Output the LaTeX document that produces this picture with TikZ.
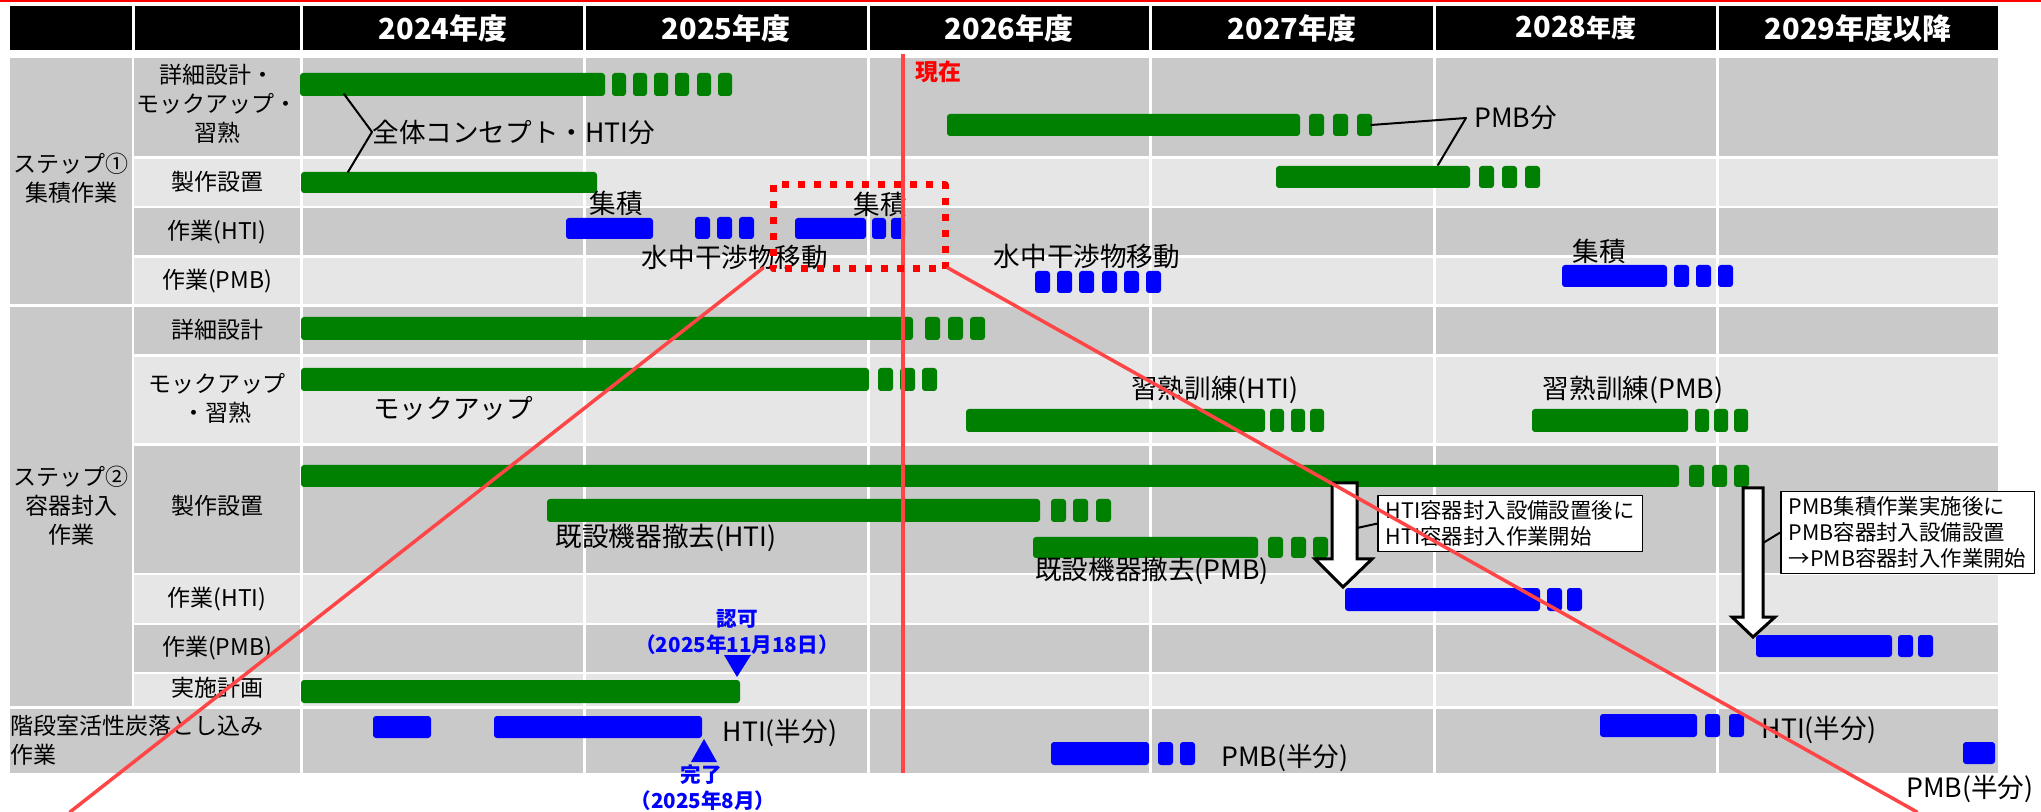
\documentclass[tikz,border=0pt]{standalone}
\usepackage{fontspec}
\setmainfont{Noto Sans CJK JP}
\definecolor{RowDark}{HTML}{C9C9C9}
\definecolor{RowLight}{HTML}{E6E6E6}
\definecolor{BarGreen}{HTML}{008000}
\definecolor{BarBlue}{HTML}{0000FF}
\definecolor{NowRed}{HTML}{FF4545}

\begin{document}
\begin{tikzpicture}[x=0.5pt,y=-0.5pt,line cap=round,line join=round,
  gbar/.style={fill=BarGreen,rounded corners=1.5pt},
  bbar/.style={fill=BarBlue,rounded corners=1.5pt},
  rowlab/.style={font=\fontsize{11.5}{14.5}\selectfont,align=center,inner sep=0pt},
  chartlab/.style={font=\fontsize{13.3}{15}\selectfont,inner sep=0pt},
  yearlab/.style={font=\fontsize{14.5}{16}\selectfont\bfseries,text=white,inner sep=0pt},
  marklab/.style={font=\fontsize{10.3}{13}\selectfont\bfseries,text=BarBlue,inner sep=0pt},
  callout/.style={draw,line width=0.75pt,fill=white,font=\fontsize{10.7}{13}\selectfont,align=left,inner xsep=4pt,inner ysep=2.5pt},
  blockarrow/.style={draw,fill=white,line width=1.5pt,line join=miter}]
  \useasboundingbox (0,0) rectangle (2041,812);
  \draw[red,line width=1pt] (0,1) -- (2041,1);
  % header row and grid bands
  \fill (10,6) rectangle (1998,50);
  \foreach \ya/\yb/\c in {58/156/RowDark,159/206/RowLight,208/255/RowDark,258/304/RowLight,307/354/RowDark,357/443/RowLight,446/573/RowDark,575/623/RowLight,625/672/RowDark,674/706/RowLight}
    \fill[\c] (134,\ya) rectangle (1998,\yb);
  \fill[RowDark] (10,709) rectangle (1998,773);
  \fill[RowDark] (10,58) rectangle (132,304);
  \fill[RowDark] (10,307) rectangle (132,706);
  \draw[white,line width=1.5pt] (133,6) -- (133,50);
  \foreach \sx in {301.5,584.5,868,1150.5,1434.5,1717.5} \draw[white,line width=1.5pt] (\sx,6) -- (\sx,773);
  \foreach \yr/\cx [count=\i] in {2024年度/443,2025年度/726,2026年度/1009,2027年度/1292,2028{\fontsize{12.5}{14}\selectfont 年度}/1576,2029年度以降/1858}
    \node[yearlab] (yr\i) at (\cx,28) {\yr};

  \begin{scope}
    \node[rowlab] (step1) at (71,178) {ステップ①\\集積作業};
    \node[rowlab] (s1design) at (217,104) {詳細設計・\\モックアップ・\\習熟};
    \node[rowlab] (s1make) at (217,182) {製作設置};
    \node[rowlab] (s1hti) at (217,232) {作業(HTI)};
    \node[rowlab] (s1pmb) at (217,281) {作業(PMB)};
    \fill[gbar] (300,73) rectangle (605,96);
    \foreach \x in {612,633,654,675,697,718} \fill[gbar] (\x,73) rectangle ++(14,23);
    \fill[gbar] (947,114) rectangle (1300,136);
    \foreach \x in {1309,1333,1357} \fill[gbar] (\x,114) rectangle ++(15,22);
    \fill[gbar] (301,172) rectangle (597,193);
    \fill[gbar] (1276,166) rectangle (1470,188);
    \foreach \x in {1479,1502,1525} \fill[gbar] (\x,166) rectangle ++(15,22);
    \fill[bbar] (566,218) rectangle (653,239);
    \foreach \x in {695,717,739} \fill[bbar] (\x,217) rectangle ++(15,22);
    \fill[bbar] (795,218) rectangle (866,239);
    \foreach \x in {872,891} \fill[bbar] (\x,218) rectangle ++(14,21);
    \foreach \x in {1035,1057,1079,1102,1124,1146} \fill[bbar] (\x,271) rectangle ++(15,22);
    \fill[bbar] (1562,265) rectangle (1667,287);
    \foreach \x in {1674,1696,1718} \fill[bbar] (\x,265) rectangle ++(15,22);
    \coordinate (concA) at (344,94); \coordinate (concB) at (348,172);
    \node[chartlab,anchor=west] (concept) at (372,132) {全体コンセプト・HTI分};
    \draw[line width=1pt] (concA) -- (concept.west) -- (concB);
    \coordinate (pmbA) at (1371,125); \coordinate (pmbB) at (1438,165);
    \node[chartlab,anchor=west,inner xsep=4pt] (pmbpart) at (1466,118) {PMB分};
    \draw[line width=1pt] (pmbA) -- (pmbpart.west) -- (pmbB);
    \node[chartlab] (acc1) at (616,203) {集積};
    \node[chartlab] (acc2) at (880,204) {集積};
    \node[chartlab] (acc3) at (1599,251) {集積};
    \node[chartlab] (move1) at (735,257) {水中干渉物移動};
    \node[chartlab] (move2) at (1087,256) {水中干渉物移動};
  \end{scope}

  \begin{scope}
    \node[rowlab] (step2) at (71,506) {ステップ②\\容器封入\\作業};
    \node[rowlab] (s2design) at (217,330) {詳細設計};
    \node[rowlab] (s2mock) at (217,398) {モックアップ\\・習熟};
    \node[rowlab] (s2make) at (217,506) {製作設置};
    \node[rowlab] (s2hti) at (217,599) {作業(HTI)};
    \node[rowlab] (s2pmb) at (217,648) {作業(PMB)};
    \node[rowlab] (s2plan) at (217,688) {実施計画};
    \node[rowlab,align=left,anchor=west] (stair) at (10,740) {階段室活性炭落とし込み\\作業};
    \fill[gbar] (301,317) rectangle (913,340);
    \foreach \x in {925,948,970} \fill[gbar] (\x,317) rectangle ++(15,23);
    \fill[gbar] (301,368) rectangle (869,391);
    \foreach \x in {878,900,922} \fill[gbar] (\x,368) rectangle ++(15,23);
    \fill[gbar] (966,409) rectangle (1265,432);
    \foreach \x in {1270,1291,1310} \fill[gbar] (\x,409) rectangle ++(14,23);
    \fill[gbar] (1532,409) rectangle (1688,432);
    \foreach \x in {1695,1714,1734} \fill[gbar] (\x,409) rectangle ++(14,23);
    \fill[gbar] (301,465) rectangle (1679,487);
    \foreach \x in {1689,1712,1734} \fill[gbar] (\x,465) rectangle ++(15,22);
    \fill[gbar] (547,499) rectangle (1040,522);
    \foreach \x in {1051,1073,1096} \fill[gbar] (\x,499) rectangle ++(15,23);
    \fill[gbar] (1033,537) rectangle (1258,558);
    \foreach \x in {1268,1291,1313} \fill[gbar] (\x,537) rectangle ++(15,21);
    \fill[bbar] (1345,588) rectangle (1540,611);
    \foreach \x in {1547,1567} \fill[bbar] (\x,588) rectangle ++(15,23);
    \fill[bbar] (1756,635) rectangle (1892,657);
    \foreach \x in {1898,1918} \fill[bbar] (\x,635) rectangle ++(15,22);
    \fill[gbar] (301,680) rectangle (740,703);
    \fill[bbar] (373,716) rectangle (431,738);
    \fill[bbar] (494,716) rectangle (702,738);
    \fill[bbar] (1051,742) rectangle (1149,765);
    \foreach \x in {1158,1180} \fill[bbar] (\x,742) rectangle ++(15,23);
    \fill[bbar] (1600,714) rectangle (1697,737);
    \foreach \x in {1705,1729} \fill[bbar] (\x,714) rectangle ++(15,23);
    \fill[bbar] (1963,742) rectangle (1995,764);
    \node[chartlab] (mock) at (453,408) {モックアップ};
    \node[chartlab] (trainhti) at (1215,390) {習熟訓練(HTI)};
    \node[chartlab] (trainpmb) at (1633,390) {習熟訓練(PMB)};
    \node[chartlab] (remhti) at (666,538) {既設機器撤去(HTI)};
    \node[chartlab] (rempmb) at (1152,571) {既設機器撤去(PMB)};
    \node[chartlab] (halfhti1) at (780,733) {HTI(半分)};
    \node[chartlab] (halfpmb1) at (1285,758) {PMB(半分)};
    \node[chartlab] (halfhti2) at (1819,730) {HTI(半分)};
    \node[chartlab] (halfpmb2) at (1970,789) {PMB(半分)};
    \node[marklab] (permit) at (737,619) {認可};
    \node[marklab] (permitday) at (737,645) {（2025年11月18日）};
    \fill[BarBlue] (724,655) -- (751,655) -- (737,677) -- cycle;
    \node[marklab] (done) at (701,775) {完了};
    \node[marklab] (doneday) at (703,801) {（2025年8月）};
    \fill[BarBlue] (691,762) -- (717,762) -- (704,739) -- cycle;
    \draw[blockarrow] (1332,483) -- (1357,483) -- (1357,559) -- (1372,559) -- (1343,587) -- (1315,559) -- (1332,559) -- cycle;
    \draw[blockarrow] (1743,488) -- (1763,488) -- (1763,617) -- (1775,617) -- (1753,637) -- (1732,617) -- (1743,617) -- cycle;
    \node[callout,anchor=north west] (htibox) at (1377,495) {HTI容器封入設備設置後に\\HTI容器封入作業開始};
    \node[callout,anchor=north west] (pmbbox) at (1780,491) {PMB集積作業実施後に\\PMB容器封入設備設置\\→PMB容器封入作業開始};
    \coordinate (htishaft) at (1357,528); \coordinate (pmbshaft) at (1763,543);
    \draw[line width=1pt] (htishaft) -- (htibox.west);
    \draw[line width=1pt] (pmbshaft) -- (pmbbox.west);
  \end{scope}

  % current date and the zoomed-in part
  \draw[NowRed,line width=2pt,line cap=butt] (903,54) -- (903,773);
  \node[font=\fontsize{11.5}{13}\selectfont\bfseries,text=red,anchor=west,inner sep=0pt] (now) at (915,72) {現在};
  \draw[red,line width=3.5pt,line cap=butt,dash pattern=on 3.5pt off 4.5pt] (773,185) rectangle (945,269);
  \coordinate (zoomL) at (763,268); \coordinate (zoomR) at (948,268);
  \coordinate (edgeL) at (70,812); \coordinate (edgeR) at (1917,812);
  \draw[NowRed,line width=1.75pt] (zoomL) -- (edgeL);
  \draw[NowRed,line width=1.75pt] (zoomR) -- (edgeR);
\end{tikzpicture}
\end{document}
